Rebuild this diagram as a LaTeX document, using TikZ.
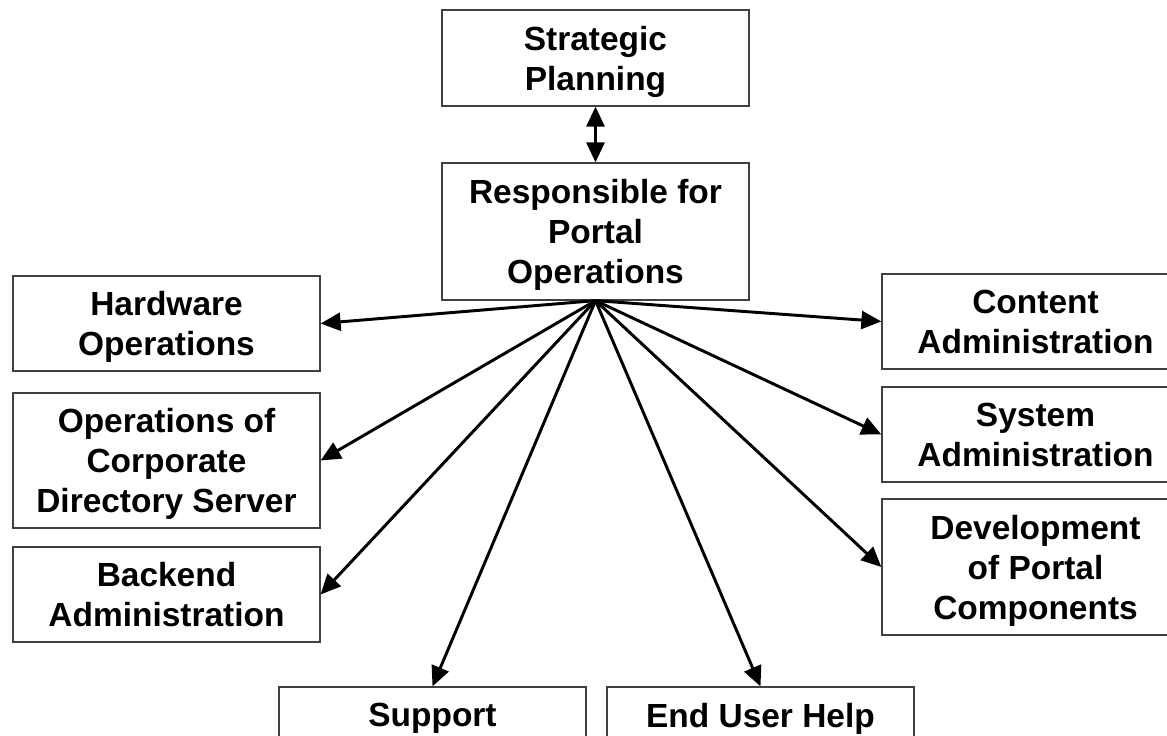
\documentclass[tikz,border=0pt]{standalone}
\usepackage{fontspec}
\setmainfont{Liberation Sans}
\usetikzlibrary{arrows.meta}

\begin{document}
\begin{tikzpicture}[
    >={Triangle[length=0.5cm, width=0.45cm]},
    font=\bfseries\fontsize{23.8}{28.4}\selectfont,
    box/.style={draw=black!75, line width=0.9pt, align=center, minimum width=7.675cm, inner sep=0pt, text depth=-0.15cm},
    twoline/.style={box, minimum height=2.375cm},
    threeline/.style={box, minimum height=3.4cm},
    link/.style={line width=2.1pt, ->}
]
% --- RAHMEN ---
\useasboundingbox (0,0) rectangle (29.175,18.4);
\clip (0,0) rectangle (29.175,18.4);

% --- PARAMETER ---
\def\xl{4.1625}    % linke Spalte
\def\xm{14.8875}   % Mitte
\def\xr{25.8875}   % rechte Spalte (am Rand abgeschnitten)

% --- MITTE ---
\node[twoline, minimum height=2.4cm] (strat) at (\xm,16.95) {Strategic\\Planning};
\node[threeline, minimum height=3.425cm] (resp) at (\xm,12.6125) {Responsible for\\Portal\\Operations};

% --- LINKS ---
\node[twoline] (hw) at (\xl,10.3125) {Hardware\\Operations};
\node[threeline, minimum height=3.375cm] (corp) at (\xl,6.8875) {Operations of\\Corporate\\Directory Server};
\node[twoline] (back) at (\xl,3.5375) {Backend\\Administration};

% --- RECHTS ---
\node[twoline] (cont) at (\xr,10.3625) {Content\\Administration};
\node[twoline] (sys) at (\xr,7.5375) {System\\Administration};
\node[threeline] (dev) at (\xr,4.225) {Development\\of Portal\\Components};

% --- UNTEN ---
\node[box, minimum height=1.4cm] (supp) at (10.8125,0.525) {Support};
\node[box, minimum height=1.4cm] (help) at (19.0125,0.525) {End User Help};

% --- PFEILE ---
\draw[link, <->] (strat) -- (resp);
\draw[link] (resp.south) -- (hw.east);
\draw[link] (resp.south) -- (corp.east);
\draw[link] (resp.south) -- (back.east);
\draw[link] (resp.south) -- (supp.north);
\draw[link] (resp.south) -- (help.north);
\draw[link] (resp.south) -- (dev.west);
\draw[link] (resp.south) -- (sys.west);
\draw[link] (resp.south) -- (cont.west);
\end{tikzpicture}
\end{document}
